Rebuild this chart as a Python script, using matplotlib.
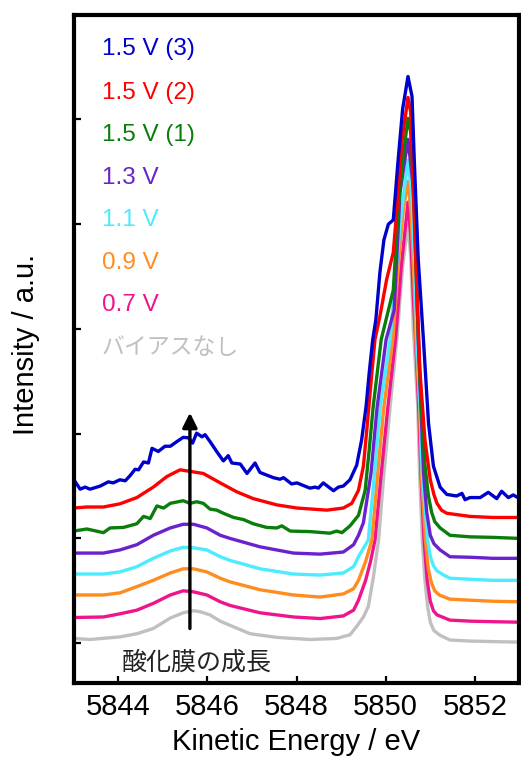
import matplotlib
matplotlib.use("Agg")
import matplotlib.pyplot as plt

# ---------------- data ----------------
labels = ["1.5 V (3)", "1.5 V (2)", "1.5 V (1)", "1.3 V", "1.1 V", "0.9 V", "0.7 V", "バイアスなし"]

x_gray = [5843.0, 5843.37, 5844.04, 5844.42, 5844.79, 5845.17, 5845.46, 5845.69, 5845.84, 5846.06,
          5846.29, 5846.51, 5846.96, 5847.56, 5848.30, 5848.90, 5849.20, 5849.35, 5849.50, 5849.61,
          5849.72, 5849.84, 5849.96, 5850.10, 5850.25, 5850.38, 5850.50, 5850.56, 5850.62, 5850.72,
          5850.76, 5850.82, 5850.88, 5850.94, 5851.00, 5851.08, 5851.22, 5851.44, 5851.9, 5852.4,
          5853.0]
y_gray = [0.045, 0.035, 0.06, 0.09, 0.14, 0.24, 0.29, 0.31, 0.30, 0.27,
          0.21, 0.17, 0.09, 0.055, 0.035, 0.045, 0.08, 0.16, 0.25, 0.35,
          0.62, 0.985, 1.62, 2.26, 2.90, 3.6, 4.0, 3.7, 3.0, 2.26,
          1.62, 0.985, 0.6, 0.35, 0.2, 0.12, 0.075, 0.03, 0.02, 0.015,
          0.01]

x_pink = [5843.0, 5843.67, 5844.04, 5844.42, 5844.79, 5845.17, 5845.46, 5845.69, 5845.99, 5846.29,
          5846.51, 5847.18, 5847.93, 5848.53, 5849.05, 5849.28, 5849.39, 5849.55, 5849.66, 5849.76,
          5849.90, 5850.05, 5850.22, 5850.35, 5850.50, 5850.56, 5850.62, 5850.67, 5850.74, 5850.79,
          5850.86, 5850.93, 5851.00, 5851.07, 5851.15, 5851.44, 5851.9, 5852.4, 5853.0]
y_pink = [0.245, 0.25, 0.28, 0.315, 0.38, 0.46, 0.50, 0.49, 0.46, 0.395,
          0.36, 0.29, 0.25, 0.235, 0.26, 0.315, 0.41, 0.6, 0.78, 0.985,
          1.62, 2.26, 2.90, 3.6, 4.21, 3.9, 3.3, 2.90, 2.26, 1.62,
          0.985, 0.6, 0.4, 0.31, 0.27, 0.22, 0.21, 0.205, 0.20]

x_orange = [5843.0, 5843.67, 5844.04, 5844.42, 5844.79, 5845.17, 5845.46, 5845.69, 5845.99, 5846.29,
            5846.51, 5847.18, 5847.93, 5848.53, 5849.05, 5849.28, 5849.39, 5849.55, 5849.69, 5849.82,
            5849.96, 5850.16, 5850.30, 5850.40, 5850.50, 5850.57, 5850.63, 5850.68, 5850.76, 5850.80,
            5850.89, 5850.96, 5851.03, 5851.10, 5851.20, 5851.44, 5851.9, 5852.4, 5853.0]
y_orange = [0.46, 0.46, 0.48, 0.54, 0.60, 0.67, 0.71, 0.71, 0.68, 0.62,
            0.585, 0.51, 0.46, 0.44, 0.47, 0.52, 0.60, 0.78, 0.985, 1.62,
            2.26, 2.90, 3.7, 4.15, 4.41, 4.1, 3.5, 2.90, 2.26, 1.62,
            0.985, 0.7, 0.57, 0.5, 0.46, 0.42, 0.41, 0.40, 0.395]

x_cyan = [5843.0, 5843.67, 5844.04, 5844.42, 5844.79, 5845.17, 5845.46, 5845.69, 5845.99, 5846.29,
          5846.51, 5847.18, 5847.93, 5848.53, 5849.05, 5849.28, 5849.39, 5849.61, 5849.75, 5849.88,
          5850.10, 5850.22, 5850.35, 5850.50, 5850.58, 5850.65, 5850.70, 5850.77, 5850.82, 5850.94,
          5851.00, 5851.07, 5851.15, 5851.30, 5851.44, 5851.9, 5852.4, 5853.0]
y_cyan = [0.66, 0.66, 0.68, 0.73, 0.81, 0.88, 0.915, 0.91, 0.89, 0.825,
          0.79, 0.71, 0.66, 0.65, 0.67, 0.73, 0.825, 0.985, 1.62, 2.26,
          2.90, 3.5, 4.1, 4.61, 4.3, 3.6, 2.90, 2.26, 1.62, 0.985,
          0.83, 0.74, 0.69, 0.65, 0.62, 0.61, 0.60, 0.60]

x_purple = [5843.0, 5843.67, 5844.04, 5844.42, 5844.79, 5845.17, 5845.46, 5845.69, 5845.99, 5846.29,
            5846.51, 5847.18, 5847.93, 5848.53, 5849.05, 5849.28, 5849.39, 5849.50, 5849.67, 5849.81,
            5850.01, 5850.19, 5850.32, 5850.50, 5850.58, 5850.66, 5850.70, 5850.73, 5850.79, 5850.85,
            5850.92, 5851.00, 5851.08, 5851.22, 5851.44, 5851.9, 5852.4, 5853.0]
y_purple = [0.86, 0.86, 0.89, 0.94, 1.03, 1.10, 1.135, 1.135, 1.10, 1.03,
            1.00, 0.92, 0.86, 0.85, 0.87, 0.94, 1.03, 1.15, 1.62, 2.26,
            2.90, 3.18, 4.30, 4.81, 4.5, 4.2, 3.4, 2.90, 2.26, 1.62,
            1.25, 1.03, 0.95, 0.89, 0.825, 0.82, 0.81, 0.81]

x_green = [5843.0, 5843.30, 5843.67, 5843.82, 5844.12, 5844.42, 5844.57, 5844.72, 5844.87, 5845.02,
           5845.17, 5845.46, 5845.61, 5845.76, 5845.91, 5846.06, 5846.21, 5846.36, 5846.59, 5846.81,
           5847.03, 5847.33, 5847.56, 5847.67, 5847.86, 5848.30, 5848.75, 5848.90, 5849.02, 5849.20,
           5849.39, 5849.54, 5849.63, 5849.72, 5849.90, 5850.17, 5850.28, 5850.40, 5850.50, 5850.56,
           5850.64, 5850.71, 5850.77, 5850.82, 5850.88, 5850.96, 5851.03, 5851.10, 5851.22, 5851.44,
           5851.89, 5852.4, 5853.0]
y_green = [1.07, 1.09, 1.055, 1.10, 1.105, 1.14, 1.21, 1.19, 1.31, 1.29,
           1.335, 1.36, 1.335, 1.35, 1.335, 1.28, 1.27, 1.24, 1.20, 1.18,
           1.14, 1.105, 1.10, 1.12, 1.07, 1.065, 1.05, 1.07, 1.055, 1.12,
           1.22, 1.46, 1.845, 2.26, 2.90, 3.37, 4.14, 4.68, 5.01, 4.88,
           4.14, 3.18, 2.48, 2.1, 1.7, 1.40, 1.25, 1.16, 1.10, 1.03,
           1.015, 1.01, 1.00]

x_red = [5843.0, 5843.30, 5843.67, 5844.04, 5844.42, 5844.79, 5845.09, 5845.32, 5845.39, 5845.61,
         5845.91, 5846.29, 5846.66, 5847.03, 5847.56, 5848.01, 5848.68, 5849.05, 5849.24, 5849.39,
         5849.50, 5849.59, 5849.69, 5849.76, 5849.87, 5850.02, 5850.17, 5850.25, 5850.36, 5850.50,
         5850.56, 5850.62, 5850.70, 5850.77, 5850.88, 5851.0, 5851.08, 5851.15, 5851.25, 5851.37,
         5851.89, 5852.4, 5853.0]
y_red = [1.29, 1.30, 1.30, 1.33, 1.39, 1.49, 1.59, 1.64, 1.655, 1.64,
         1.62, 1.53, 1.445, 1.38, 1.32, 1.29, 1.27, 1.29, 1.335, 1.46,
         1.69, 2.10, 2.58, 2.90, 3.12, 3.47, 3.73, 4.14, 4.78, 5.21,
         5.07, 4.30, 3.35, 2.58, 1.94, 1.56, 1.42, 1.335, 1.27, 1.24,
         1.21, 1.20, 1.20]

x_blue = [5843.0, 5843.15, 5843.26, 5843.37, 5843.60, 5843.78, 5843.89, 5844.04, 5844.16, 5844.27,
          5844.38, 5844.46, 5844.57, 5844.68, 5844.76, 5844.90, 5845.05, 5845.17, 5845.32, 5845.46,
          5845.58, 5845.67, 5845.76, 5845.88, 5845.95, 5846.06, 5846.21, 5846.36, 5846.47, 5846.55,
          5846.74, 5846.89, 5847.07, 5847.18, 5847.48, 5847.63, 5847.71, 5847.89, 5848.01, 5848.30,
          5848.42, 5848.49, 5848.60, 5848.83, 5848.94, 5849.05, 5849.20, 5849.35, 5849.46, 5849.56,
          5849.63, 5849.71, 5849.78, 5849.87, 5849.96, 5850.06, 5850.17, 5850.28, 5850.38, 5850.50,
          5850.59, 5850.64, 5850.73, 5850.85, 5850.96, 5851.07, 5851.22, 5851.37, 5851.59, 5851.71,
          5851.78, 5851.89, 5852.12, 5852.30, 5852.49, 5852.60, 5852.75, 5852.86, 5853.0]
y_blue = [1.565, 1.47, 1.49, 1.47, 1.50, 1.54, 1.53, 1.56, 1.55, 1.60,
          1.66, 1.655, 1.73, 1.72, 1.86, 1.83, 1.88, 1.88, 1.925, 1.965,
          1.96, 1.91, 2.005, 1.97, 1.99, 1.925, 1.83, 1.74, 1.79, 1.72,
          1.71, 1.62, 1.72, 1.63, 1.58, 1.565, 1.58, 1.52, 1.53, 1.48,
          1.49, 1.48, 1.53, 1.455, 1.49, 1.50, 1.56, 1.70, 1.94, 2.26,
          2.58, 2.90, 3.09, 3.54, 3.85, 4.0, 4.04, 4.62, 5.10, 5.41,
          5.22, 4.62, 3.66, 2.87, 2.10, 1.69, 1.49, 1.42, 1.405, 1.43,
          1.37, 1.39, 1.39, 1.44, 1.38, 1.45, 1.39, 1.415, 1.38]

xticks = [5844, 5846, 5848, 5850, 5852]
yticks = [0, 1, 2, 3, 4, 5]

# ---------------- styling ----------------
colors = ["#0000CC", "#FF0000", "#0A7D0A", "#6A22CC", "#4DEBFF", "#FF8C1E", "#F0148C", "#C0C0C0"]
series = [(x_blue, y_blue), (x_red, y_red), (x_green, y_green), (x_purple, y_purple),
          (x_cyan, y_cyan), (x_orange, y_orange), (x_pink, y_pink), (x_gray, y_gray)]

plt.rcParams['font.family'] = ['Liberation Sans', 'Noto Sans CJK JP', 'DejaVu Sans']

fig = plt.figure(figsize=(5.21, 7.57), dpi=100)
ax = fig.add_axes([0.1411, 0.0978, 0.8560, 0.8828])

for (xs, ys), c in reversed(list(zip(series, colors))):
    ax.plot(xs, ys, color=c, lw=2.4, solid_joinstyle='round', solid_capstyle='round')

ax.set_xlim(5843, 5853)
ax.set_ylim(-0.38, 6.0)
ax.set_xticks(xticks)
ax.set_yticks(yticks)
ax.set_yticklabels([])
ax.tick_params(axis='both', direction='in', length=5, width=1.6, top=False, right=False)
ax.tick_params(axis='x', labelsize=21, pad=7)
for sp in ax.spines.values():
    sp.set_linewidth(3.0)

ax.set_xlabel("Kinetic Energy / eV", fontsize=21, va='baseline')
ax.xaxis.set_label_coords(0.498, -0.100)
ax.set_ylabel("Intensity / a.u.", fontsize=21, va='center')
ax.yaxis.set_label_coords(-0.107, 0.506)

# legend-like coloured labels
label_y = [5.67, 5.25, 4.85, 4.44, 4.04, 3.63, 3.23, 2.82]
for lab, c, yy in zip(labels, colors, label_y):
    if lab == "バイアスなし":
        ax.text(5843.63, yy, lab, color=c, fontsize=16.5, va='center', ha='left',
                family=['Noto Sans CJK JP', 'DejaVu Sans'])
    else:
        ax.text(5843.63, yy, lab, color=c, fontsize=17.5, va='center', ha='left')

# arrow and annotation
ax.annotate("", xy=(5845.61, 2.20), xytext=(5845.61, 0.14),
            arrowprops=dict(arrowstyle='-|>', lw=2.4, color='black', mutation_scale=22,
                            shrinkA=0, shrinkB=0))
ax.text(5844.07, -0.185, "酸化膜の成長", fontsize=18, color='#222222', va='center', ha='left',
        family=['Noto Sans CJK JP', 'DejaVu Sans'])

fig.savefig("out.png", dpi=100)
